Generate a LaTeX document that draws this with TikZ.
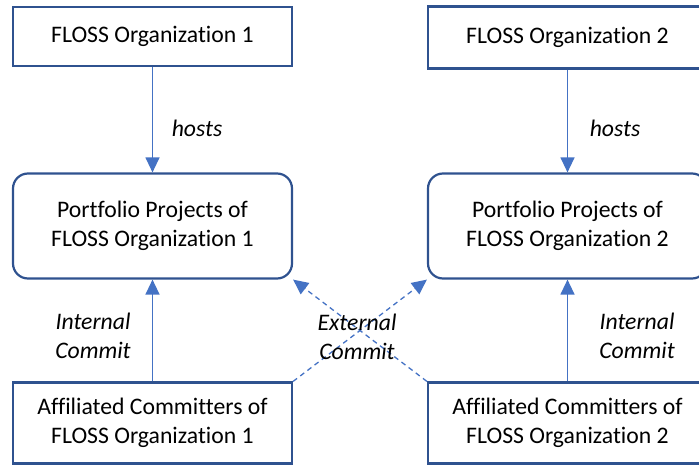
\documentclass[tikz,border=0pt]{standalone}
\usepackage{fontspec}
\setmainfont{Carlito}[RawFeature={-liga}]
\usetikzlibrary{arrows.meta}
\definecolor{boxblue}{HTML}{2F528F}
\definecolor{arrowblue}{HTML}{4472C4}

\begin{document}
\begin{tikzpicture}[x=1bp,y=-1bp,
	box/.style={draw=boxblue,line width=2.2bp,minimum width=279bp,inner sep=0pt,align=center,font=\fontsize{23.7bp}{29bp}\selectfont},
	rbox/.style={box,rounded corners=15bp},
	lbl/.style={align=center,font=\fontsize{23.7bp}{29bp}\selectfont\itshape},
	arr/.style={arrowblue,line width=1.3bp,-{Triangle[width=14bp,length=15bp]}},
	darr/.style={arr,dash pattern=on 5bp off 4bp}]
	
	% 画布范围 (右侧方框被裁掉一部分)
	\useasboundingbox (0,0) rectangle (699,466);
	\clip (0,0) rectangle (699,466);
	
	% 定义方框的中心横坐标
	\def\xl{152.5} % 左列
	\def\xr{567.5} % 右列
	
	% 组织方框
	\node[box,minimum height=59bp] (org1) at (\xl,36.5) {FLOSS Organization 1};
	\node[box,minimum height=62bp] (org2) at (\xr,37.5) {FLOSS Organization 2};
	
	% 项目方框 (圆角)
	\node[rbox,minimum height=105bp] (proj1) at (\xl,226) {Portfolio Projects of\\FLOSS Organization 1};
	\node[rbox,minimum height=105bp] (proj2) at (\xr,226) {Portfolio Projects of\\FLOSS Organization 2};
	
	% 提交者方框
	\node[box,minimum height=81bp] (comm1) at (\xl,423) {Affiliated Committers of\\FLOSS Organization 1};
	\node[box,minimum height=81bp] (comm2) at (\xr,423) {Affiliated Committers of\\FLOSS Organization 2};
	
	% 托管关系
	\draw[arr] (org1) -- (proj1);
	\draw[arr] (org2) -- (proj2);
	\node[lbl] (hosts1) at (197,128) {hosts};
	\node[lbl] (hosts2) at (615,128) {hosts};
	
	% 内部提交
	\draw[arr] (comm1) -- (proj1);
	\draw[arr] (comm2) -- (proj2);
	\node[lbl] (int1) at (93,336) {Internal\\Commit};
	\node[lbl] (int2) at (637,336) {Internal\\Commit};
	
	% 外部提交 (交叉虚线)
	\draw[darr] (comm1.north east) -- (proj2.south west);
	\draw[darr] (comm2.north west) -- (proj1.south east);
	\node[lbl] (ext) at (357,337) {External\\Commit};
	
\end{tikzpicture}
\end{document}
